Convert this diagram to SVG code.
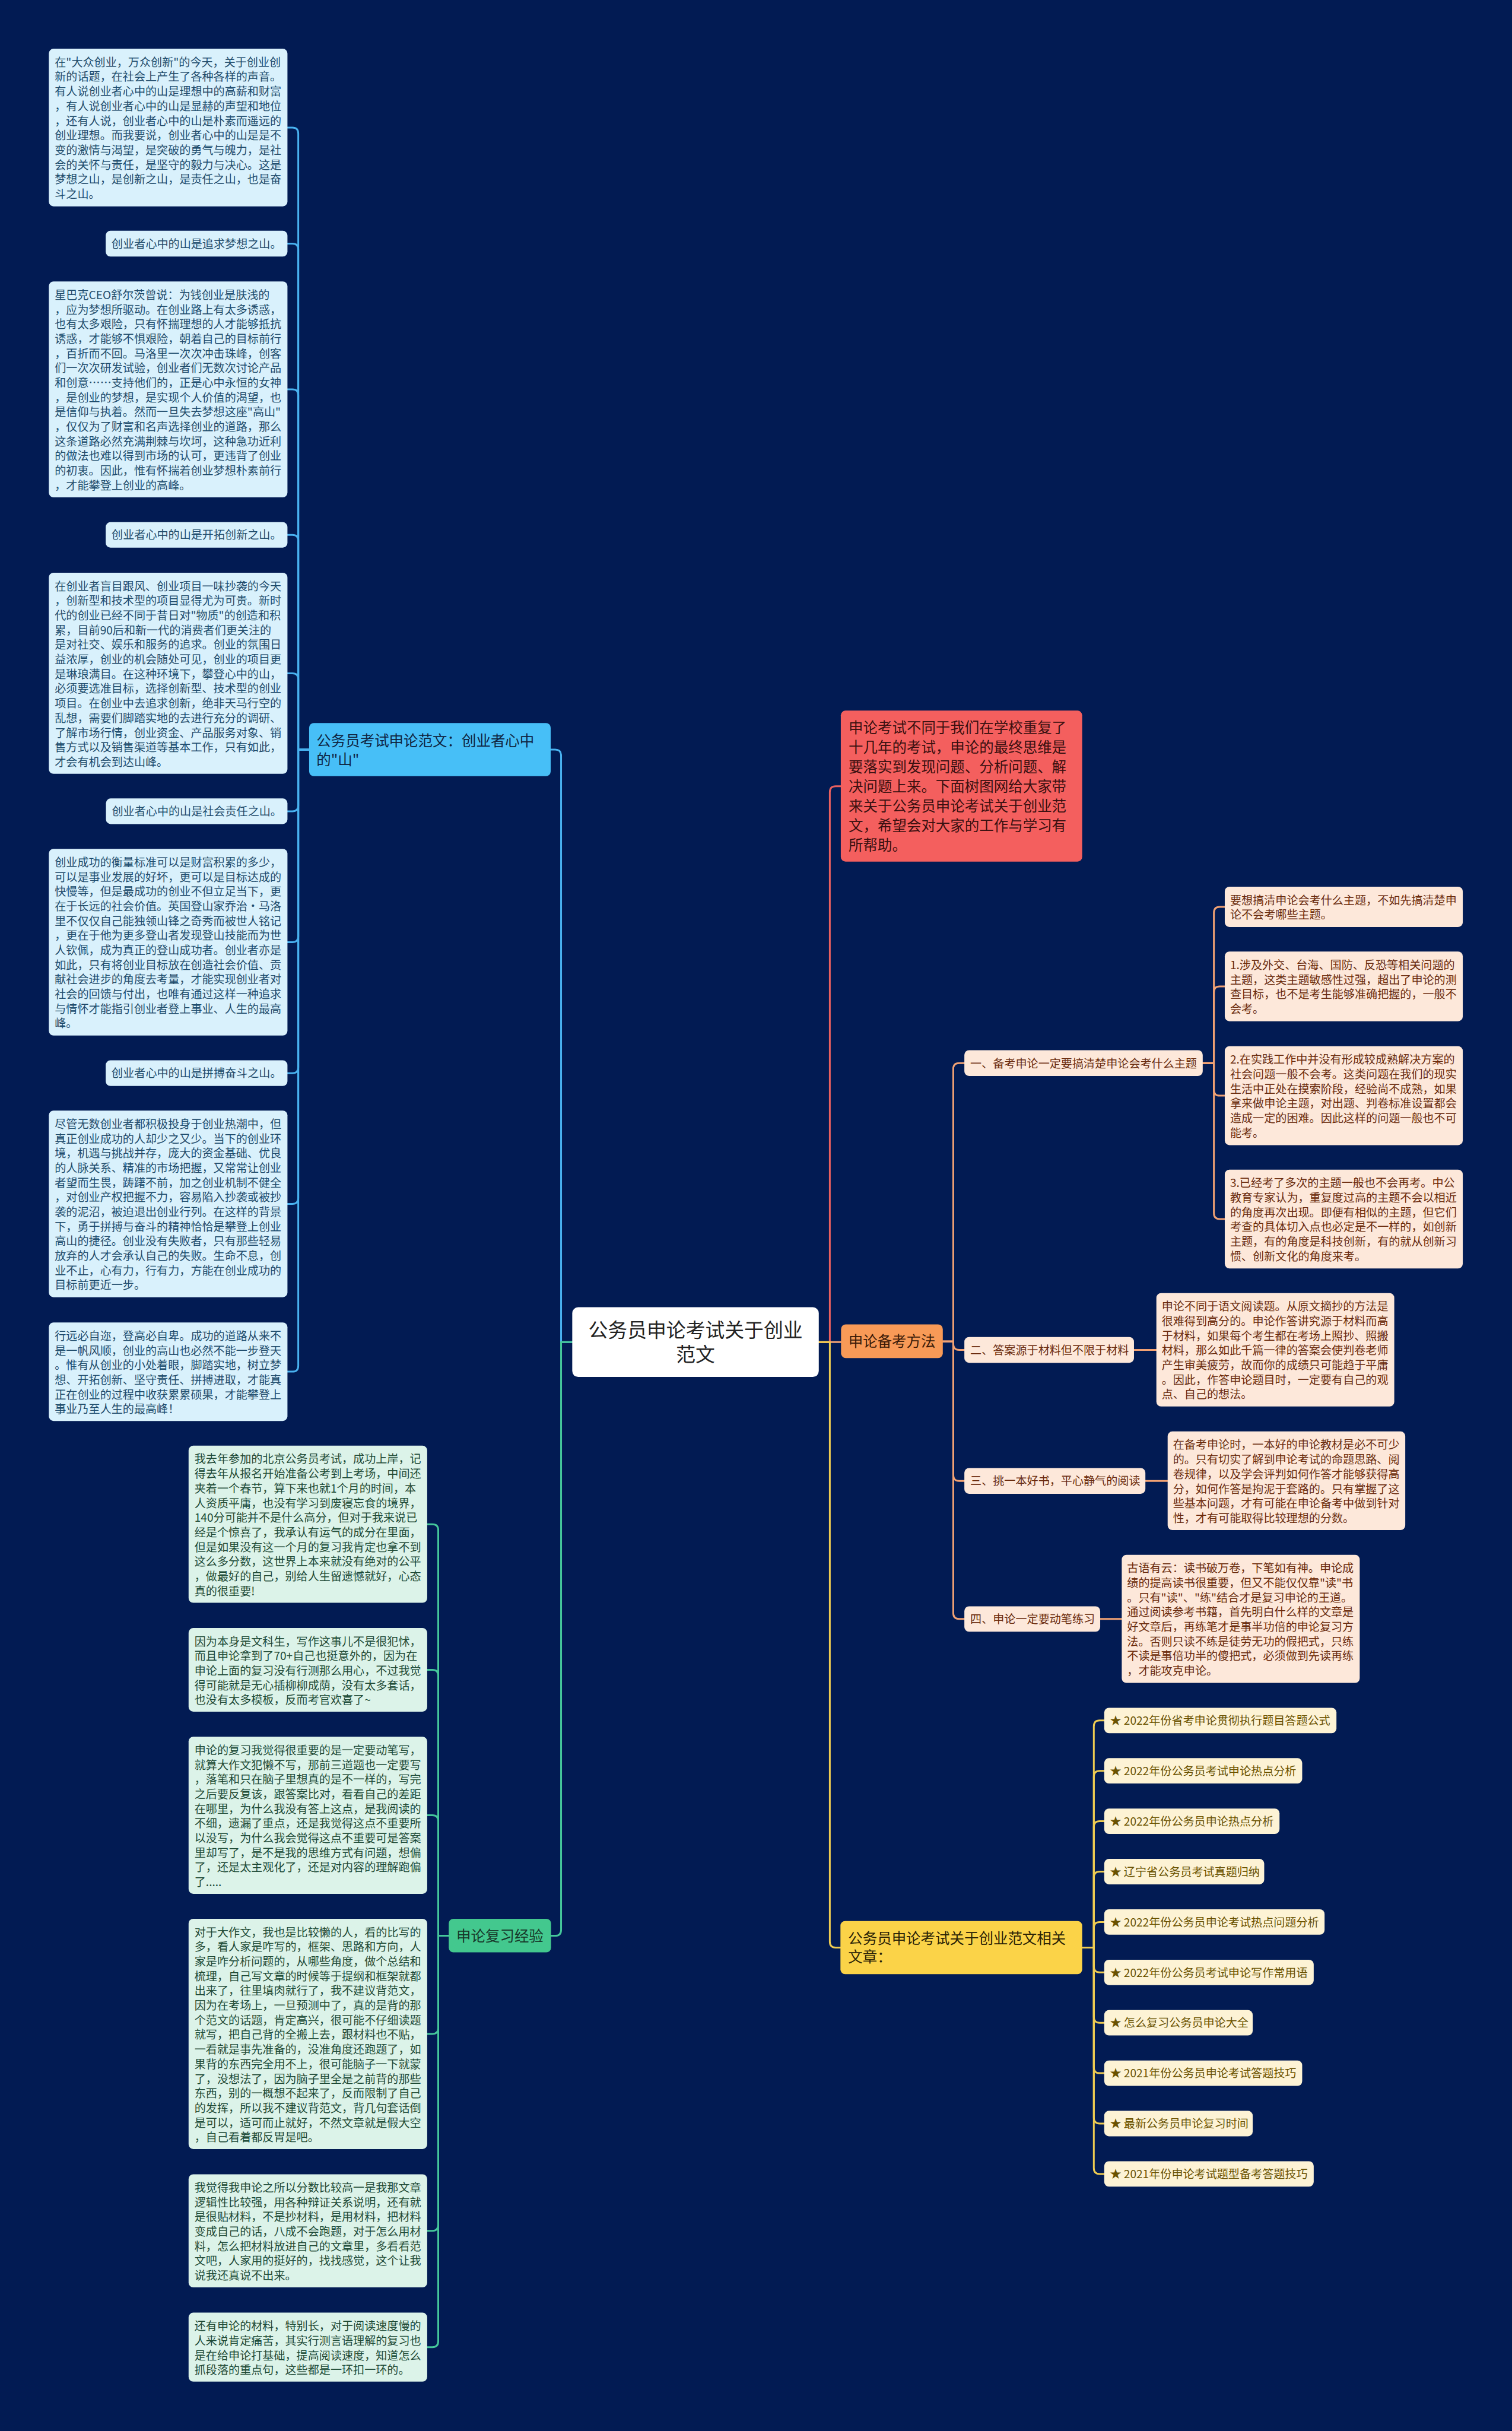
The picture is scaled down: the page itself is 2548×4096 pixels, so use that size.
<svg xmlns="http://www.w3.org/2000/svg" width="2548" height="4096" viewBox="0 0 2548 4096">
<style>
.t{font-family:"Noto Sans CJK SC","Liberation Sans",sans-serif}
.s{font-size:19.2px}
.m{font-size:24.6px}
.r{font-size:33px}
.c{fill:none;stroke-width:3;stroke-linecap:round;stroke-linejoin:round}
.cb{stroke:#49b2f0}.cg{stroke:#45c79b}.cr{stroke:#e9605f}.co{stroke:#f2a274}.cy{stroke:#efcc52}
.lb{fill:#d9f1fc}.tb{fill:#1f4c6c}
.lg{fill:#dcf3e9}.tg{fill:#1e4a36}
.lo{fill:#fde8da}.to{fill:#6a2b0d}
.ly{fill:#fdf3d5}.ty{fill:#6a5200}
</style>
<rect x="0" y="0" width="2548" height="4096" fill="#021b53"/>
<g transform="scale(0.9953)">
<g id="connectors">
<path class="c cb" d="M968.9 2272H950V1279Q950 1269 940 1269H932.5"/>
<path class="c cg" d="M968.9 2272H950V3267Q950 3277 940 3277H933"/>
<path class="c cr" d="M1386.3 2272H1405V1341Q1405 1331 1415 1331H1423.6"/>
<path class="c co" d="M1386.3 2272H1424"/>
<path class="c cy" d="M1386.3 2272H1405V3287Q1405 3297 1415 3297H1423"/>
<path class="c cb" d="M523.4 1269H505V226Q505 216 495 216H486.7"/>
<path class="c cb" d="M523.4 1269H505V422.5Q505 412.5 495 412.5H486.7"/>
<path class="c cb" d="M523.4 1269H505V669.2Q505 659.2 495 659.2H486.7"/>
<path class="c cb" d="M523.4 1269H505V915.4Q505 905.4 495 905.4H486.7"/>
<path class="c cb" d="M523.4 1269H505V1149.8Q505 1139.8 495 1139.8H486.7"/>
<path class="c cb" d="M523.4 1269H505V1363.4Q505 1373.4 495 1373.4H486.7"/>
<path class="c cb" d="M523.4 1269H505V1585Q505 1595 495 1595H486.7"/>
<path class="c cb" d="M523.4 1269H505V1806.7Q505 1816.7 495 1816.7H486.7"/>
<path class="c cb" d="M523.4 1269H505V2028Q505 2038 495 2038H486.7"/>
<path class="c cb" d="M523.4 1269H505V2312Q505 2322 495 2322H486.7"/>
<path class="c cg" d="M759.8 3277H742V2590.3Q742 2580.3 732 2580.3H723.3"/>
<path class="c cg" d="M759.8 3277H742V2836.8Q742 2826.8 732 2826.8H723.3"/>
<path class="c cg" d="M759.8 3277H742V3083Q742 3073 732 3073H723.3"/>
<path class="c cg" d="M759.8 3277H742V3433.2Q742 3443.2 732 3443.2H723.3"/>
<path class="c cg" d="M759.8 3277H742V3766.5Q742 3776.5 732 3776.5H723.3"/>
<path class="c cg" d="M759.8 3277H742V3963.4Q742 3973.4 732 3973.4H723.3"/>
<path class="c co" d="M1596.3 2271H1614V1809.6Q1614 1799.6 1624 1799.6H1632.8"/>
<path class="c co" d="M1596.3 2271H1614V2275.2Q1614 2285.2 1624 2285.2H1632.8"/>
<path class="c co" d="M1596.3 2271H1614V2497Q1614 2507 1624 2507H1632.8"/>
<path class="c co" d="M1596.3 2271H1614V2730.7Q1614 2740.7 1624 2740.7H1632.8"/>
<path class="c co" d="M2036.4 1799.6H2055.3V1545.2Q2055.3 1535.2 2065.3 1535.2H2073.7"/>
<path class="c co" d="M2036.4 1799.6H2055.3V1679.8Q2055.3 1669.8 2065.3 1669.8H2073.7"/>
<path class="c co" d="M2036.4 1799.6H2055.3V1844.8Q2055.3 1854.8 2065.3 1854.8H2073.7"/>
<path class="c co" d="M2036.4 1799.6H2055.3V2053.7Q2055.3 2063.7 2065.3 2063.7H2073.7"/>
<path class="c co" d="M1920 2285.2H1957.9"/>
<path class="c co" d="M1939.3 2507H1977"/>
<path class="c co" d="M1862.8 2740.7H1899.3"/>
<path class="c cy" d="M1832.3 3297H1852V2922.5Q1852 2912.5 1862 2912.5H1869.6"/>
<path class="c cy" d="M1832.3 3297H1852V3007.8Q1852 2997.8 1862 2997.8H1869.6"/>
<path class="c cy" d="M1832.3 3297H1852V3093.1Q1852 3083.1 1862 3083.1H1869.6"/>
<path class="c cy" d="M1832.3 3297H1852V3178.4Q1852 3168.4 1862 3168.4H1869.6"/>
<path class="c cy" d="M1832.3 3297H1852V3263.7Q1852 3253.7 1862 3253.7H1869.6"/>
<path class="c cy" d="M1832.3 3297H1852V3329Q1852 3339 1862 3339H1869.6"/>
<path class="c cy" d="M1832.3 3297H1852V3414.3Q1852 3424.3 1862 3424.3H1869.6"/>
<path class="c cy" d="M1832.3 3297H1852V3499.6Q1852 3509.6 1862 3509.6H1869.6"/>
<path class="c cy" d="M1832.3 3297H1852V3584.9Q1852 3594.9 1862 3594.9H1869.6"/>
<path class="c cy" d="M1832.3 3297H1852V3670.2Q1852 3680.2 1862 3680.2H1869.6"/>
</g>

<g id="root">
<rect x="968.9" y="2213" width="417.4" height="118" rx="10" fill="#ffffff"/>
<text class="t r" fill="#222222" text-anchor="middle" x="1177.6" y="2263.5">公务员申论考试关于创业<tspan x="1177.6" dy="41">范文</tspan></text>
</g>

<g id="node-blue">
<rect x="523.4" y="1224" width="409" height="90" rx="8" fill="#47bff7"/>
<text class="t m" fill="#0f2440" x="535.8" y="1263">公务员考试申论范文：创业者心中<tspan x="535.8" dy="32">的"山"</tspan></text>
</g>

<g id="blue-1">
<rect class="lb" x="82.7" y="82.5" width="404" height="266.8" rx="8"/>
<text class="t s tb" x="92.7" y="112.3">在"大众创业，万众创新"的今天，关于创业创<tspan x="92.7" dy="24.8">新的话题，在社会上产生了各种各样的声音。</tspan><tspan x="92.7" dy="24.8">有人说创业者心中的山是理想中的高薪和财富</tspan><tspan x="92.7" dy="24.8">，有人说创业者心中的山是显赫的声望和地位</tspan><tspan x="92.7" dy="24.8">，还有人说，创业者心中的山是朴素而遥远的</tspan><tspan x="92.7" dy="24.8">创业理想。而我要说，创业者心中的山是是不</tspan><tspan x="92.7" dy="24.8">变的激情与渴望，是突破的勇气与魄力，是社</tspan><tspan x="92.7" dy="24.8">会的关怀与责任，是坚守的毅力与决心。这是</tspan><tspan x="92.7" dy="24.8">梦想之山，是创新之山，是责任之山，也是奋</tspan><tspan x="92.7" dy="24.8">斗之山。</tspan></text>
</g>
<g id="blue-2">
<rect class="lb" x="179" y="390.7" width="307.7" height="43.6" rx="8"/>
<text class="t s tb" x="189" y="419.8">创业者心中的山是追求梦想之山。</text>
</g>
<g id="blue-3">
<rect class="lb" x="82.7" y="476.4" width="404" height="365.6" rx="8"/>
<text class="t s tb" x="92.7" y="506.2">星巴克CEO舒尔茨曾说：为钱创业是肤浅的<tspan x="92.7" dy="24.8">，应为梦想所驱动。在创业路上有太多诱惑，</tspan><tspan x="92.7" dy="24.8">也有太多艰险，只有怀揣理想的人才能够抵抗</tspan><tspan x="92.7" dy="24.8">诱惑，才能够不惧艰险，朝着自己的目标前行</tspan><tspan x="92.7" dy="24.8">，百折而不回。马洛里一次次冲击珠峰，创客</tspan><tspan x="92.7" dy="24.8">们一次次研发试验，创业者们无数次讨论产品</tspan><tspan x="92.7" dy="24.8">和创意……支持他们的，正是心中永恒的女神</tspan><tspan x="92.7" dy="24.8">，是创业的梦想，是实现个人价值的渴望，也</tspan><tspan x="92.7" dy="24.8">是信仰与执着。然而一旦失去梦想这座"高山"</tspan><tspan x="92.7" dy="24.8">，仅仅为了财富和名声选择创业的道路，那么</tspan><tspan x="92.7" dy="24.8">这条道路必然充满荆棘与坎坷，这种急功近利</tspan><tspan x="92.7" dy="24.8">的做法也难以得到市场的认可，更违背了创业</tspan><tspan x="92.7" dy="24.8">的初衷。因此，惟有怀揣着创业梦想朴素前行</tspan><tspan x="92.7" dy="24.8">，才能攀登上创业的高峰。</tspan></text>
</g>
<g id="blue-4">
<rect class="lb" x="179" y="884" width="307.7" height="43" rx="8"/>
<text class="t s tb" x="189" y="912.7">创业者心中的山是开拓创新之山。</text>
</g>
<g id="blue-5">
<rect class="lb" x="82.7" y="969.6" width="404" height="340.4" rx="8"/>
<text class="t s tb" x="92.7" y="999.4">在创业者盲目跟风、创业项目一味抄袭的今天<tspan x="92.7" dy="24.8">，创新型和技术型的项目显得尤为可贵。新时</tspan><tspan x="92.7" dy="24.8">代的创业已经不同于昔日对"物质"的创造和积</tspan><tspan x="92.7" dy="24.8">累，目前90后和新一代的消费者们更关注的</tspan><tspan x="92.7" dy="24.8">是对社交、娱乐和服务的追求。创业的氛围日</tspan><tspan x="92.7" dy="24.8">益浓厚，创业的机会随处可见，创业的项目更</tspan><tspan x="92.7" dy="24.8">是琳琅满目。在这种环境下，攀登心中的山，</tspan><tspan x="92.7" dy="24.8">必须要选准目标，选择创新型、技术型的创业</tspan><tspan x="92.7" dy="24.8">项目。在创业中去追求创新，绝非天马行空的</tspan><tspan x="92.7" dy="24.8">乱想，需要们脚踏实地的去进行充分的调研、</tspan><tspan x="92.7" dy="24.8">了解市场行情，创业资金、产品服务对象、销</tspan><tspan x="92.7" dy="24.8">售方式以及销售渠道等基本工作，只有如此，</tspan><tspan x="92.7" dy="24.8">才会有机会到达山峰。</tspan></text>
</g>
<g id="blue-6">
<rect class="lb" x="179.4" y="1351.7" width="307.3" height="43.3" rx="8"/>
<text class="t s tb" x="189.4" y="1380.7">创业者心中的山是社会责任之山。</text>
</g>
<g id="blue-7">
<rect class="lb" x="82.7" y="1437" width="404" height="316" rx="8"/>
<text class="t s tb" x="92.7" y="1466.8">创业成功的衡量标准可以是财富积累的多少，<tspan x="92.7" dy="24.8">可以是事业发展的好坏，更可以是目标达成的</tspan><tspan x="92.7" dy="24.8">快慢等，但是最成功的创业不但立足当下，更</tspan><tspan x="92.7" dy="24.8">在于长远的社会价值。英国登山家乔治·马洛</tspan><tspan x="92.7" dy="24.8">里不仅仅自己能独领山锋之奇秀而被世人铭记</tspan><tspan x="92.7" dy="24.8">，更在于他为更多登山者发现登山技能而为世</tspan><tspan x="92.7" dy="24.8">人钦佩，成为真正的登山成功者。创业者亦是</tspan><tspan x="92.7" dy="24.8">如此，只有将创业目标放在创造社会价值、贡</tspan><tspan x="92.7" dy="24.8">献社会进步的角度去考量，才能实现创业者对</tspan><tspan x="92.7" dy="24.8">社会的回馈与付出，也唯有通过这样一种追求</tspan><tspan x="92.7" dy="24.8">与情怀才能指引创业者登上事业、人生的最高</tspan><tspan x="92.7" dy="24.8">峰。</tspan></text>
</g>
<g id="blue-8">
<rect class="lb" x="179" y="1795" width="307.7" height="43.4" rx="8"/>
<text class="t s tb" x="189" y="1824">创业者心中的山是拼搏奋斗之山。</text>
</g>
<g id="blue-9">
<rect class="lb" x="82.7" y="1880" width="404" height="316" rx="8"/>
<text class="t s tb" x="92.7" y="1909.8">尽管无数创业者都积极投身于创业热潮中，但<tspan x="92.7" dy="24.8">真正创业成功的人却少之又少。当下的创业环</tspan><tspan x="92.7" dy="24.8">境，机遇与挑战并存，庞大的资金基础、优良</tspan><tspan x="92.7" dy="24.8">的人脉关系、精准的市场把握，又常常让创业</tspan><tspan x="92.7" dy="24.8">者望而生畏，踌躇不前，加之创业机制不健全</tspan><tspan x="92.7" dy="24.8">，对创业产权把握不力，容易陷入抄袭或被抄</tspan><tspan x="92.7" dy="24.8">袭的泥沼，被迫退出创业行列。在这样的背景</tspan><tspan x="92.7" dy="24.8">下，勇于拼搏与奋斗的精神恰恰是攀登上创业</tspan><tspan x="92.7" dy="24.8">高山的捷径。创业没有失败者，只有那些轻易</tspan><tspan x="92.7" dy="24.8">放弃的人才会承认自己的失败。生命不息，创</tspan><tspan x="92.7" dy="24.8">业不止，心有力，行有力，方能在创业成功的</tspan><tspan x="92.7" dy="24.8">目标前更近一步。</tspan></text>
</g>
<g id="blue-10">
<rect class="lb" x="82.7" y="2238.7" width="404" height="166.8" rx="8"/>
<text class="t s tb" x="92.7" y="2268.5">行远必自迩，登高必自卑。成功的道路从来不<tspan x="92.7" dy="24.8">是一帆风顺，创业的高山也必然不能一步登天</tspan><tspan x="92.7" dy="24.8">。惟有从创业的小处着眼，脚踏实地，树立梦</tspan><tspan x="92.7" dy="24.8">想、开拓创新、坚守责任、拼搏进取，才能真</tspan><tspan x="92.7" dy="24.8">正在创业的过程中收获累累硕果，才能攀登上</tspan><tspan x="92.7" dy="24.8">事业乃至人生的最高峰！</tspan></text>
</g>

<g id="node-green">
<rect x="759.8" y="3248.3" width="173.2" height="56.7" rx="8" fill="#43c88e"/>
<text class="t m" fill="#17382a" text-anchor="middle" x="846.4" y="3286">申论复习经验</text>
</g>
<g id="green-1">
<rect class="lg" x="319.3" y="2447.3" width="404" height="266" rx="8"/>
<text class="t s tg" x="329.3" y="2477.1">我去年参加的北京公务员考试，成功上岸，记<tspan x="329.3" dy="24.8">得去年从报名开始准备公考到上考场，中间还</tspan><tspan x="329.3" dy="24.8">夹着一个春节，算下来也就1个月的时间，本</tspan><tspan x="329.3" dy="24.8">人资质平庸，也没有学习到废寝忘食的境界，</tspan><tspan x="329.3" dy="24.8">140分可能并不是什么高分，但对于我来说已</tspan><tspan x="329.3" dy="24.8">经是个惊喜了，我承认有运气的成分在里面，</tspan><tspan x="329.3" dy="24.8">但是如果没有这一个月的复习我肯定也拿不到</tspan><tspan x="329.3" dy="24.8">这么多分数，这世界上本来就没有绝对的公平</tspan><tspan x="329.3" dy="24.8">，做最好的自己，别给人生留遗憾就好，心态</tspan><tspan x="329.3" dy="24.8">真的很重要!</tspan></text>
</g>
<g id="green-2">
<rect class="lg" x="319.3" y="2756" width="404" height="141.5" rx="8"/>
<text class="t s tg" x="329.3" y="2785.8">因为本身是文科生，写作这事儿不是很犯怵，<tspan x="329.3" dy="24.8">而且申论拿到了70+自己也挺意外的，因为在</tspan><tspan x="329.3" dy="24.8">申论上面的复习没有行测那么用心，不过我觉</tspan><tspan x="329.3" dy="24.8">得可能就是无心插柳柳成荫，没有太多套话，</tspan><tspan x="329.3" dy="24.8">也没有太多模板，反而考官欢喜了~</tspan></text>
</g>
<g id="green-3">
<rect class="lg" x="319.3" y="2940" width="404" height="266" rx="8"/>
<text class="t s tg" x="329.3" y="2969.8">申论的复习我觉得很重要的是一定要动笔写，<tspan x="329.3" dy="24.8">就算大作文犯懒不写，那前三道题也一定要写</tspan><tspan x="329.3" dy="24.8">，落笔和只在脑子里想真的是不一样的，写完</tspan><tspan x="329.3" dy="24.8">之后要反复该，跟答案比对，看看自己的差距</tspan><tspan x="329.3" dy="24.8">在哪里，为什么我没有答上这点，是我阅读的</tspan><tspan x="329.3" dy="24.8">不细，遗漏了重点，还是我觉得这点不重要所</tspan><tspan x="329.3" dy="24.8">以没写，为什么我会觉得这点不重要可是答案</tspan><tspan x="329.3" dy="24.8">里却写了，是不是我的思维方式有问题，想偏</tspan><tspan x="329.3" dy="24.8">了，还是太主观化了，还是对内容的理解跑偏</tspan><tspan x="329.3" dy="24.8">了.....</tspan></text>
</g>
<g id="green-4">
<rect class="lg" x="319.3" y="3248.3" width="404" height="389.7" rx="8"/>
<text class="t s tg" x="329.3" y="3278.1">对于大作文，我也是比较懒的人，看的比写的<tspan x="329.3" dy="24.8">多，看人家是咋写的，框架、思路和方向，人</tspan><tspan x="329.3" dy="24.8">家是咋分析问题的，从哪些角度，做个总结和</tspan><tspan x="329.3" dy="24.8">梳理，自己写文章的时候等于提纲和框架就都</tspan><tspan x="329.3" dy="24.8">出来了，往里填肉就行了，我不建议背范文，</tspan><tspan x="329.3" dy="24.8">因为在考场上，一旦预测中了，真的是背的那</tspan><tspan x="329.3" dy="24.8">个范文的话题，肯定高兴，很可能不仔细读题</tspan><tspan x="329.3" dy="24.8">就写，把自己背的全搬上去，跟材料也不贴，</tspan><tspan x="329.3" dy="24.8">一看就是事先准备的，没准角度还跑题了，如</tspan><tspan x="329.3" dy="24.8">果背的东西完全用不上，很可能脑子一下就蒙</tspan><tspan x="329.3" dy="24.8">了，没想法了，因为脑子里全是之前背的那些</tspan><tspan x="329.3" dy="24.8">东西，别的一概想不起来了，反而限制了自己</tspan><tspan x="329.3" dy="24.8">的发挥，所以我不建议背范文，背几句套话倒</tspan><tspan x="329.3" dy="24.8">是可以，适可而止就好，不然文章就是假大空</tspan><tspan x="329.3" dy="24.8">，自己看着都反胃是吧。</tspan></text>
</g>
<g id="green-5">
<rect class="lg" x="319.3" y="3680.7" width="404" height="191.6" rx="8"/>
<text class="t s tg" x="329.3" y="3710.5">我觉得我申论之所以分数比较高一是我那文章<tspan x="329.3" dy="24.8">逻辑性比较强，用各种辩证关系说明，还有就</tspan><tspan x="329.3" dy="24.8">是很贴材料，不是抄材料，是用材料，把材料</tspan><tspan x="329.3" dy="24.8">变成自己的话，八成不会跑题，对于怎么用材</tspan><tspan x="329.3" dy="24.8">料，怎么把材料放进自己的文章里，多看看范</tspan><tspan x="329.3" dy="24.8">文吧，人家用的挺好的，找找感觉，这个让我</tspan><tspan x="329.3" dy="24.8">说我还真说不出来。</tspan></text>
</g>
<g id="green-6">
<rect class="lg" x="319.3" y="3915" width="404" height="116.7" rx="8"/>
<text class="t s tg" x="329.3" y="3944.8">还有申论的材料，特别长，对于阅读速度慢的<tspan x="329.3" dy="24.8">人来说肯定痛苦，其实行测言语理解的复习也</tspan><tspan x="329.3" dy="24.8">是在给申论打基础，提高阅读速度，知道怎么</tspan><tspan x="329.3" dy="24.8">抓段落的重点句，这些都是一环扣一环的。</tspan></text>
</g>

<g id="intro-red">
<rect x="1423.6" y="1203" width="408.7" height="255.5" rx="8" fill="#f45f5e"/>
<text class="t m" fill="#3a1010" x="1436.8" y="1241">申论考试不同于我们在学校重复了<tspan x="1436.8" dy="33.1">十几年的考试，申论的最终思维是</tspan><tspan x="1436.8" dy="33.1">要落实到发现问题、分析问题、解</tspan><tspan x="1436.8" dy="33.1">决问题上来。下面树图网给大家带</tspan><tspan x="1436.8" dy="33.1">来关于公务员申论考试关于创业范</tspan><tspan x="1436.8" dy="33.1">文，希望会对大家的工作与学习有</tspan><tspan x="1436.8" dy="33.1">所帮助。</tspan></text>
</g>

<g id="node-orange">
<rect x="1424" y="2242" width="172.3" height="57" rx="8" fill="#f89a57"/>
<text class="t m" fill="#3a1a08" text-anchor="middle" x="1510.2" y="2280">申论备考方法</text>
</g>
<g id="orange-1">
<rect class="lo" x="1632.8" y="1777.8" width="403.6" height="43.7" rx="8"/>
<text class="t s to" x="1642.8" y="1807">一、备考申论一定要搞清楚申论会考什么主题</text>
</g>
<g id="orange-1a">
<rect class="lo" x="2073.7" y="1501" width="403" height="68.3" rx="8"/>
<text class="t s to" x="2082.7" y="1530.8">要想搞清申论会考什么主题，不如先搞清楚申<tspan x="2082.7" dy="24.8">论不会考哪些主题。</tspan></text>
</g>
<g id="orange-1b">
<rect class="lo" x="2073.7" y="1610.8" width="403" height="118" rx="8"/>
<text class="t s to" x="2082.7" y="1640.6">1.涉及外交、台海、国防、反恐等相关问题的<tspan x="2082.7" dy="24.8">主题，这类主题敏感性过强，超出了申论的测</tspan><tspan x="2082.7" dy="24.8">查目标，也不是考生能够准确把握的，一般不</tspan><tspan x="2082.7" dy="24.8">会考。</tspan></text>
</g>
<g id="orange-1c">
<rect class="lo" x="2073.7" y="1771" width="403" height="167.5" rx="8"/>
<text class="t s to" x="2082.7" y="1800.8">2.在实践工作中并没有形成较成熟解决方案的<tspan x="2082.7" dy="24.8">社会问题一般不会考。这类问题在我们的现实</tspan><tspan x="2082.7" dy="24.8">生活中正处在摸索阶段，经验尚不成熟，如果</tspan><tspan x="2082.7" dy="24.8">拿来做申论主题，对出题、判卷标准设置都会</tspan><tspan x="2082.7" dy="24.8">造成一定的困难。因此这样的问题一般也不可</tspan><tspan x="2082.7" dy="24.8">能考。</tspan></text>
</g>
<g id="orange-1d">
<rect class="lo" x="2073.7" y="1980" width="403" height="167.4" rx="8"/>
<text class="t s to" x="2082.7" y="2009.8">3.已经考了多次的主题一般也不会再考。中公<tspan x="2082.7" dy="24.8">教育专家认为，重复度过高的主题不会以相近</tspan><tspan x="2082.7" dy="24.8">的角度再次出现。即便有相似的主题，但它们</tspan><tspan x="2082.7" dy="24.8">考查的具体切入点也必定是不一样的，如创新</tspan><tspan x="2082.7" dy="24.8">主题，有的角度是科技创新，有的就从创新习</tspan><tspan x="2082.7" dy="24.8">惯、创新文化的角度来考。</tspan></text>
</g>
<g id="orange-2">
<rect class="lo" x="1632.8" y="2263.4" width="287.2" height="43.6" rx="8"/>
<text class="t s to" x="1642.8" y="2292.5">二、答案源于材料但不限于材料</text>
</g>
<g id="orange-2a">
<rect class="lo" x="1957.9" y="2189" width="402.8" height="192" rx="8"/>
<text class="t s to" x="1966.9" y="2218.8">申论不同于语文阅读题。从原文摘抄的方法是<tspan x="1966.9" dy="24.8">很难得到高分的。申论作答讲究源于材料而高</tspan><tspan x="1966.9" dy="24.8">于材料，如果每个考生都在考场上照抄、照搬</tspan><tspan x="1966.9" dy="24.8">材料，那么如此千篇一律的答案会使判卷老师</tspan><tspan x="1966.9" dy="24.8">产生审美疲劳，故而你的成绩只可能趋于平庸</tspan><tspan x="1966.9" dy="24.8">。因此，作答申论题目时，一定要有自己的观</tspan><tspan x="1966.9" dy="24.8">点、自己的想法。</tspan></text>
</g>
<g id="orange-3">
<rect class="lo" x="1632.8" y="2485.2" width="306.5" height="43.6" rx="8"/>
<text class="t s to" x="1642.8" y="2514.3">三、挑一本好书，平心静气的阅读</text>
</g>
<g id="orange-3a">
<rect class="lo" x="1977" y="2423.2" width="402.3" height="167" rx="8"/>
<text class="t s to" x="1986" y="2453">在备考申论时，一本好的申论教材是必不可少<tspan x="1986" dy="24.8">的。只有切实了解到申论考试的命题思路、阅</tspan><tspan x="1986" dy="24.8">卷规律，以及学会评判如何作答才能够获得高</tspan><tspan x="1986" dy="24.8">分，如何作答是拘泥于套路的。只有掌握了这</tspan><tspan x="1986" dy="24.8">些基本问题，才有可能在申论备考中做到针对</tspan><tspan x="1986" dy="24.8">性，才有可能取得比较理想的分数。</tspan></text>
</g>
<g id="orange-4">
<rect class="lo" x="1632.8" y="2719.3" width="230" height="43" rx="8"/>
<text class="t s to" x="1642.8" y="2748">四、申论一定要动笔练习</text>
</g>
<g id="orange-4a">
<rect class="lo" x="1899.3" y="2632" width="402.9" height="217" rx="8"/>
<text class="t s to" x="1908.3" y="2661.8">古语有云：读书破万卷，下笔如有神。申论成<tspan x="1908.3" dy="24.8">绩的提高读书很重要，但又不能仅仅靠"读"书</tspan><tspan x="1908.3" dy="24.8">。只有"读"、"练"结合才是复习申论的王道。</tspan><tspan x="1908.3" dy="24.8">通过阅读参考书籍，首先明白什么样的文章是</tspan><tspan x="1908.3" dy="24.8">好文章后，再练笔才是事半功倍的申论复习方</tspan><tspan x="1908.3" dy="24.8">法。否则只读不练是徒劳无功的假把式，只练</tspan><tspan x="1908.3" dy="24.8">不读是事倍功半的傻把式，必须做到先读再练</tspan><tspan x="1908.3" dy="24.8">，才能攻克申论。</tspan></text>
</g>

<g id="node-yellow">
<rect x="1423" y="3252" width="409.3" height="90" rx="8" fill="#fbd348"/>
<text class="t m" fill="#2a2206" x="1436" y="3290">公务员申论考试关于创业范文相关<tspan x="1436" dy="32">文章：</tspan></text>
</g>
<g id="yellow-1"><rect class="ly" x="1869.6" y="2891" width="393.2" height="43" rx="8"/><text class="t s ty" x="1879.3" y="2919.8">★ 2022年份省考申论贯彻执行题目答题公式</text></g>
<g id="yellow-2"><rect class="ly" x="1869.6" y="2976.3" width="335.2" height="43" rx="8"/><text class="t s ty" x="1879.3" y="3005.1">★ 2022年份公务员考试申论热点分析</text></g>
<g id="yellow-3"><rect class="ly" x="1869.6" y="3061.6" width="296.8" height="43" rx="8"/><text class="t s ty" x="1879.3" y="3090.4">★ 2022年份公务员申论热点分析</text></g>
<g id="yellow-4"><rect class="ly" x="1869.6" y="3146.9" width="270.9" height="43" rx="8"/><text class="t s ty" x="1879.3" y="3175.7">★ 辽宁省公务员考试真题归纳</text></g>
<g id="yellow-5"><rect class="ly" x="1869.6" y="3232.2" width="373.1" height="43" rx="8"/><text class="t s ty" x="1879.3" y="3261">★ 2022年份公务员申论考试热点问题分析</text></g>
<g id="yellow-6"><rect class="ly" x="1869.6" y="3317.5" width="354.7" height="43" rx="8"/><text class="t s ty" x="1879.3" y="3346.3">★ 2022年份公务员考试申论写作常用语</text></g>
<g id="yellow-7"><rect class="ly" x="1869.6" y="3402.8" width="251.4" height="43" rx="8"/><text class="t s ty" x="1879.3" y="3431.6">★ 怎么复习公务员申论大全</text></g>
<g id="yellow-8"><rect class="ly" x="1869.6" y="3488.1" width="335.2" height="43" rx="8"/><text class="t s ty" x="1879.3" y="3516.9">★ 2021年份公务员申论考试答题技巧</text></g>
<g id="yellow-9"><rect class="ly" x="1869.6" y="3573.4" width="251.4" height="43" rx="8"/><text class="t s ty" x="1879.3" y="3602.2">★ 最新公务员申论复习时间</text></g>
<g id="yellow-10"><rect class="ly" x="1869.6" y="3658.7" width="354.7" height="43" rx="8"/><text class="t s ty" x="1879.3" y="3687.5">★ 2021年份申论考试题型备考答题技巧</text></g>
</g>
</svg>
